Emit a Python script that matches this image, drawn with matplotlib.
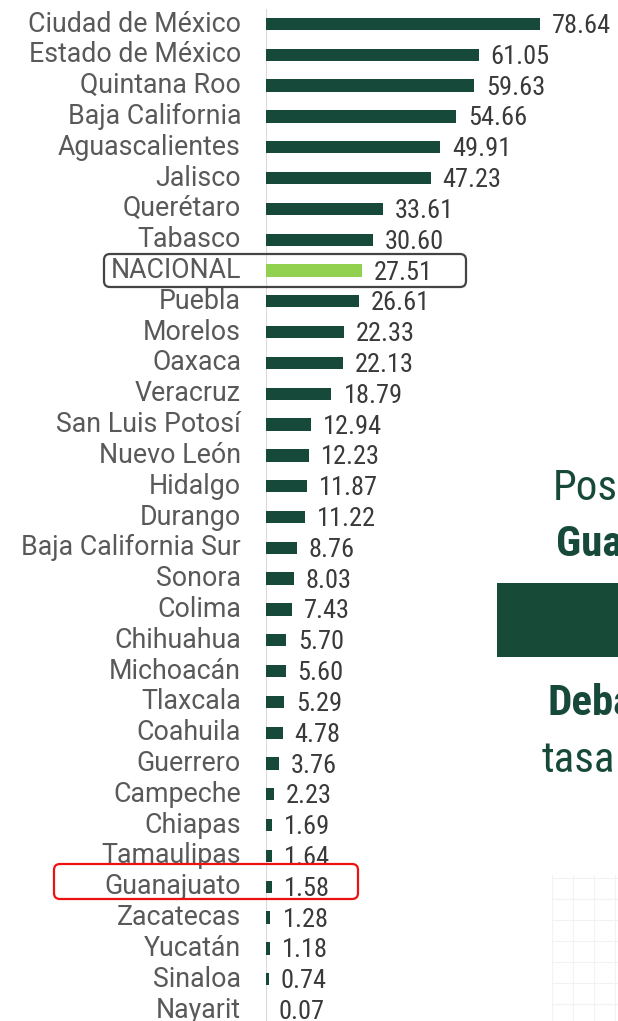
import matplotlib
matplotlib.use("Agg")
import matplotlib.pyplot as plt
from matplotlib import font_manager
from matplotlib.patches import FancyBboxPatch, Rectangle, Wedge
import numpy as np

states = ["Ciudad de México", "Estado de México", "Quintana Roo", "Baja California",
          "Aguascalientes", "Jalisco", "Querétaro", "Tabasco", "NACIONAL", "Puebla",
          "Morelos", "Oaxaca", "Veracruz", "San Luis Potosí", "Nuevo León", "Hidalgo",
          "Durango", "Baja California Sur", "Sonora", "Colima", "Chihuahua", "Michoacán",
          "Tlaxcala", "Coahuila", "Guerrero", "Campeche", "Chiapas", "Tamaulipas",
          "Guanajuato", "Zacatecas", "Yucatán", "Sinaloa", "Nayarit"]
values = [78.64, 61.05, 59.63, 54.66, 49.91, 47.23, 33.61, 30.60, 27.51, 26.61,
          22.33, 22.13, 18.79, 12.94, 12.23, 11.87, 11.22, 8.76, 8.03, 7.43, 5.70,
          5.60, 5.29, 4.78, 3.76, 2.23, 1.69, 1.64, 1.58, 1.28, 1.18, 0.74, 0.07]
value_labels = ["78.64", "61.05", "59.63", "54.66", "49.91", "47.23", "33.61", "30.60",
                "27.51", "26.61", "22.33", "22.13", "18.79", "12.94", "12.23", "11.87",
                "11.22", "8.76", "8.03", "7.43", "5.70", "5.60", "5.29", "4.78", "3.76",
                "2.23", "1.69", "1.64", "1.58", "1.28", "1.18", "0.74", "0.07"]

avail = {f.name for f in font_manager.fontManager.ttflist}
def pick(cands):
    for c in cands:
        if c in avail:
            return c
    return "DejaVu Sans"
narrow = pick(["Roboto Condensed", "Liberation Sans Narrow", "Roboto"])
regular = pick(["Roboto", "Open Sans", "Noto Sans"])

W, H = 618, 1021
fig = plt.figure(figsize=(W / 100, H / 100), dpi=100)
fig.patch.set_facecolor("white")

DARK = "#17493a"
LIGHT = "#92d050"
GREY = "#595959"

n = len(states)
px_per_unit = (540 - 266) / 78.64
row = (1010 - 24) / (n - 1)
top = 24
ax = fig.add_axes([266 / W, 0, (W - 266) / W, 1])
ax.set_xlim(0, (W - 266) / px_per_unit)
ax.set_ylim(n - 1 + (H - (top + (n - 1) * row)) / row, -top / row)
ax.axis("off")

y = np.arange(n)
colors = [LIGHT if s == "NACIONAL" else DARK for s in states]
ax.barh(y, values, height=0.4, color=colors, zorder=3)
ax.axvline(0, ymin=0, ymax=1 - 10 / H, color="#d9d9d9", lw=1.5, zorder=2)

for i, (s, v, lab) in enumerate(zip(states, values, value_labels)):
    ax.annotate(s, xy=(0, i), xytext=(-25, 0), textcoords="offset pixels",
                ha="right", va="center", fontsize=19.3, color=GREY, family=regular)
    ax.annotate(lab, xy=(v, i), xytext=(12, -2), textcoords="offset pixels",
                ha="left", va="center", fontsize=19, color="#3a3a3a", family=narrow)

# overlay axes in pixel coordinates
ov = fig.add_axes([0, 0, 1, 1], zorder=5)
ov.set_xlim(0, W)
ov.set_ylim(H, 0)
ov.axis("off")
ov.patch.set_alpha(0)

ov.add_patch(FancyBboxPatch((104, 254), 362, 33, boxstyle="round,pad=0,rounding_size=6",
                            fill=False, ec="#444444", lw=1.6))
ov.add_patch(FancyBboxPatch((54, 864), 304, 35, boxstyle="round,pad=0,rounding_size=6",
                            fill=False, ec="#ee1111", lw=1.6))

# right-side panel fragments (cut off at the right edge, as in the source)
ov.text(553, 500, "Posi", fontsize=31, color=DARK, family=narrow, va="baseline", ha="left")
ov.text(556, 556, "Gua", fontsize=31, color=DARK, family=narrow, weight="bold", va="baseline", ha="left")
ov.add_patch(Rectangle((497, 583), W - 497, 74, color="#174a37", lw=0))
ov.text(547, 715, "Deba", fontsize=31, color=DARK, family=narrow, weight="bold", va="baseline", ha="left")
ov.text(542, 772, "tasa", fontsize=31, color=DARK, family=narrow, va="baseline", ha="left")

# faint grid of background image
for gx in np.arange(552, W, 21):
    ov.plot([gx, gx], [875, H], color="#f2f2f2", lw=0.8)
for gy in np.arange(878, H, 21):
    ov.plot([552, W], [gy, gy], color="#f2f2f2", lw=0.8)
ov.add_patch(Wedge((700, 1100), 118, 120, 175, width=22, color="#8a8a8a", lw=0))
ov.add_patch(Wedge((700, 1100), 94, 120, 175, width=10, color="#5a5a5a", lw=0))

fig.savefig("out.png", dpi=100, facecolor="white")
